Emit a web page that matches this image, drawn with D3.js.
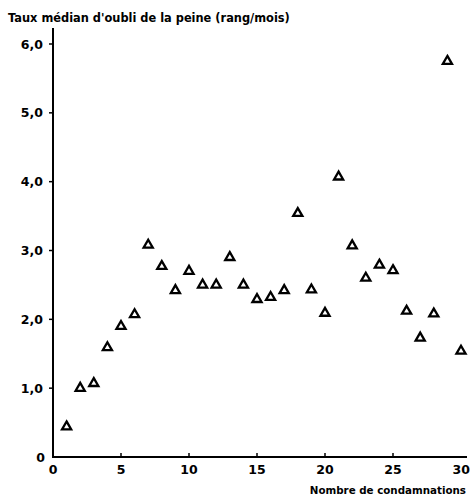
<!DOCTYPE html>
<html>
<head>
<meta charset="utf-8">
<script src="https://cdn.jsdelivr.net/npm/d3@7"></script>
<style>
  body { margin: 0; background: #fff; }
  text { font-family: "DejaVu Sans", Verdana, sans-serif; font-weight: bold; fill: #000; }
</style>
</head>
<body>
<div id="chart"></div>
<script>
// condamnations (x) and median rate (y)
var condamnations = [1, 2, 3, 4, 5, 6, 7, 8, 9, 10, 11, 12, 13, 14, 15,
                     16, 17, 18, 19, 20, 21, 22, 23, 24, 25, 26, 27, 28, 29, 30]
var tauxMedian = [0.44, 1.00, 1.07, 1.59, 1.90, 2.07, 3.08, 2.77, 2.42, 2.70, 2.50, 2.50, 2.90, 2.50, 2.29,
                  2.32, 2.42, 3.54, 2.43, 2.09, 4.07, 3.07, 2.60, 2.79, 2.71, 2.12, 1.73, 2.08, 5.75, 1.54]
var xTicks = [0, 5, 10, 15, 20, 25, 30]
var yTicks = [0, 1, 2, 3, 4, 5, 6]
var yTickLabels = ["0", "1,0", "2,0", "3,0", "4,0", "5,0", "6,0"]

var w = 471
var h = 498
var x0 = 53, x1 = 461
var y0 = 457, y1 = 44

var svg = d3.select("#chart").append("svg")
    .attr("width", w)
    .attr("height", h)

var x = d3.scaleLinear().domain([0, 30]).range([x0, x1])
var y = d3.scaleLinear().domain([0, 6]).range([y0, y1])

// axes lines
svg.append("line")
    .attr("x1", x0).attr("x2", x0)
    .attr("y1", y0).attr("y2", 28)
    .attr("stroke", "black").attr("stroke-width", 2)
svg.append("line")
    .attr("x1", x0 - 1).attr("x2", 467)
    .attr("y1", y0).attr("y2", y0)
    .attr("stroke", "black").attr("stroke-width", 2)

// y ticks (outside, to the left)
svg.selectAll(".ytick")
    .data(yTicks.slice(1))
    .enter()
    .append("line")
    .attr("class", "ytick")
    .attr("x1", x0 - 4).attr("x2", x0)
    .attr("y1", function (d) { return y(d) })
    .attr("y2", function (d) { return y(d) })
    .attr("stroke", "black").attr("stroke-width", 1.5)

svg.selectAll(".ylab")
    .data(yTicks)
    .enter()
    .append("text")
    .attr("class", "ylab")
    .attr("x", function (d) { return d == 0 ? 45 : 43 })
    .attr("y", function (d) { return y(d) + 4.5 })
    .attr("text-anchor", "end")
    .attr("font-size", 12.5)
    .text(function (d, i) { return yTickLabels[i] })

// x ticks (inside, pointing up)
svg.selectAll(".xtick")
    .data(xTicks.slice(1, 6))
    .enter()
    .append("line")
    .attr("class", "xtick")
    .attr("x1", function (d) { return x(d) })
    .attr("x2", function (d) { return x(d) })
    .attr("y1", y0 - 4).attr("y2", y0)
    .attr("stroke", "black").attr("stroke-width", 1.5)

// last label is pushed against the right edge, like the scan
svg.selectAll(".xlab")
    .data(xTicks)
    .enter()
    .append("text")
    .attr("class", "xlab")
    .attr("x", function (d) { return d == 30 ? w - 1 : x(d) })
    .attr("y", 474)
    .attr("text-anchor", function (d) { return d == 30 ? "end" : "middle" })
    .attr("font-size", 12.5)
    .text(function (d) { return d })

// titles
svg.append("text")
    .attr("x", 8).attr("y", 22)
    .attr("font-size", 11.4)
    .text("Taux médian d'oubli de la peine (rang/mois)")
svg.append("text")
    .attr("x", 466).attr("y", 494)
    .attr("text-anchor", "end")
    .attr("font-size", 10.3)
    .text("Nombre de condamnations")

// open triangles
var tri = d3.symbol().type(d3.symbolTriangle).size(36)
svg.selectAll(".pt")
    .data(condamnations)
    .enter()
    .append("path")
    .attr("class", "pt")
    .attr("d", tri)
    .attr("transform", function (d, i) {
        return "translate(" + x(d) + "," + y(tauxMedian[i]) + ")"
    })
    .attr("fill", "white")
    .attr("stroke", "black")
    .attr("stroke-width", 2.3)
    .attr("stroke-linejoin", "miter")
</script>
</body>
</html>
